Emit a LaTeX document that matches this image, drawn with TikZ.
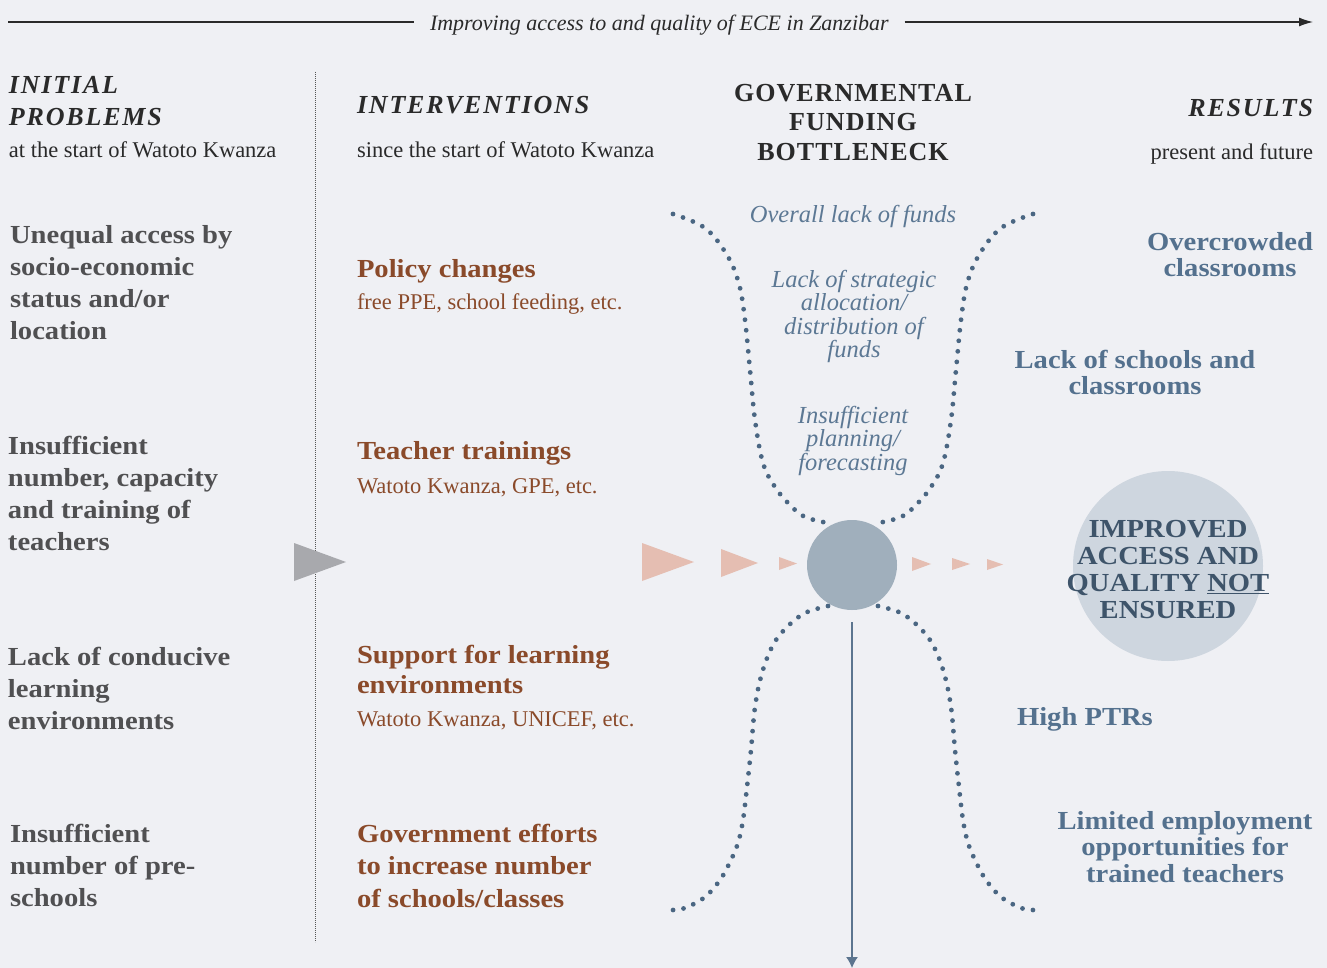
\documentclass[tikz,border=0pt]{standalone}
\usepackage{fontspec}
\setmainfont{Liberation Serif}[BoldFeatures={FakeStretch=1.1}]
\newfontfamily\hdfont{Liberation Serif}[LetterSpace=7]
\newfontfamily\capfont{Liberation Serif}[LetterSpace=4]
\usetikzlibrary{arrows.meta}
\definecolor{bgc}{RGB}{239,240,244}
\definecolor{ink}{RGB}{42,42,42}
\definecolor{probc}{RGB}{80,80,82}
\definecolor{brownc}{RGB}{138,74,42}
\definecolor{resc}{RGB}{84,113,142}
\definecolor{bnc}{RGB}{92,120,148}
\definecolor{dotc}{RGB}{74,102,130}
\definecolor{hubc}{RGB}{160,175,188}
\definecolor{outc}{RGB}{206,214,223}
\definecolor{pinkc}{RGB}{229,190,178}
\definecolor{grayc}{RGB}{168,169,173}
\definecolor{circtxt}{RGB}{62,84,106}
\tikzset{
  txt/.style={inner sep=0pt, outer sep=0pt},
  prob/.style={txt, anchor=north west, align=left, text=probc, font=\fontsize{26}{32}\selectfont\bfseries},
  intv/.style={txt, align=left, text=brownc, font=\fontsize{26}{32.5}\selectfont\bfseries},
  subt/.style={txt, anchor=base west, text=brownc, font=\fontsize{22.5}{27}\selectfont},
  res/.style={txt, align=center, text=resc, font=\fontsize{26}{26.5}\selectfont\bfseries},
  bneck/.style={txt, align=center, text=bnc, font=\fontsize{24.5}{23.5}\selectfont\itshape},
  hdr/.style={txt, text=ink, font=\fontsize{26}{32}\selectfont\hdfont\bfseries\itshape},
  note/.style={txt, text=ink, font=\fontsize{22.5}{27}\selectfont},
  dots/.style={dotc, line width=4.8pt, line cap=round, dash pattern=on 0pt off 10.6pt},
  pinktri/.style={fill=pinkc},
}
\begin{document}
\begin{tikzpicture}[x=1pt,y=-1pt]
\useasboundingbox (0,0) rectangle (1327,968);
\fill[bgc] (0,0) rectangle (1327,968);

% title arrow
\node[txt, inner xsep=16pt, anchor=base west, text=ink, font=\fontsize{22}{26}\selectfont\itshape] (title) at (414,31) {Improving access to and quality of ECE in Zanzibar};
\coordinate (tl) at (8,22);
\coordinate (tr) at (1313,22);
\draw[ink, line width=1.2pt] (tl) -- (tl -| title.west);
\draw[ink, line width=1.2pt, -{Latex[length=14pt,width=9pt]}] (tr -| title.east) -- (tr);

% divider
\coordinate (dvt) at (315,72);
\coordinate (dvb) at (315,942);
\draw[ink!80, line width=0.8pt, dash pattern=on 0.8pt off 1.2pt] (dvt) -- (dvb);

% headers
\node[hdr, anchor=north west, align=left] (hprob) at (9,76) {INITIAL\\PROBLEMS};
\node[note, anchor=base west] (sprob) at (9,158) {at the start of Watoto Kwanza};
\node[hdr, anchor=base west] (hint) at (357,114) {INTERVENTIONS};
\node[note, anchor=base west] (sint) at (357,158) {since the start of Watoto Kwanza};
\node[txt, anchor=north, align=center, text=ink, font=\fontsize{26}{29.5}\selectfont\capfont\bfseries] (hgov) at (853,84) {GOVERNMENTAL\\FUNDING\\BOTTLENECK};
\node[hdr, anchor=base east] (hres) at (1313,117) {RESULTS};
\node[note, anchor=base east] (sres) at (1313,160) {present and future};

% problems
\node[prob] (p1) at (10,225.5) {Unequal access by\\socio-economic\\status and/or\\location};
\node[prob] (p2) at (8,436) {Insufficient\\number, capacity\\and training of\\teachers};
\node[prob] (p3) at (8,647) {Lack of conducive\\learning\\environments};
\node[prob] (p4) at (10,824) {Insufficient\\number of pre-\\schools};

% interventions
\node[intv, anchor=base west] (i1) at (357,277) {Policy changes};
\node[subt] (s1) at (357,309) {free PPE, school feeding, etc.};
\node[intv, anchor=base west] (i2) at (357,459) {Teacher trainings};
\node[subt] (s2) at (357,493) {Watoto Kwanza, GPE, etc.};
\node[intv, anchor=north west, font=\fontsize{26}{30.5}\selectfont\bfseries] (i3) at (357,645) {Support for learning\\environments};
\node[subt] (s3) at (357,726) {Watoto Kwanza, UNICEF, etc.};
\node[intv, anchor=north west] (i4) at (357,824) {Government efforts\\to increase number\\of schools/classes};

% bottleneck texts
\node[bneck, anchor=base] (b1) at (853,223) {Overall lack of funds};
\node[bneck, anchor=north] (b2) at (854,270) {Lack of strategic\\allocation/\\distribution of\\funds};
\node[bneck, anchor=north] (b3) at (853,406) {Insufficient\\planning/\\forecasting};

% results
\node[res, anchor=north] (r1) at (1230,232) {Overcrowded\\classrooms};
\node[res, anchor=north] (r2) at (1135,350) {Lack of schools and\\classrooms};
\node[res, anchor=base west] (r3) at (1017,725) {High PTRs};
\node[res, anchor=north] (r4) at (1185,811) {Limited employment\\opportunities for\\trained teachers};

% funnel dots
\draw[dots] plot[smooth, tension=0.6] coordinates {(673,214) (705,228) (727,255) (739,284) (745,320) (750,370) (755,420) (763,463) (775,487) (790,505) (805,517) (828,523)};
\draw[dots] plot[smooth, tension=0.6] coordinates {(1033,214) (1001,228) (979,255) (967,284) (961,320) (956,370) (951,420) (943,463) (931,487) (916,505) (901,517) (878,523)};
\draw[dots] plot[smooth, tension=0.6] coordinates {(828,606) (805,613) (787,627) (773,645) (762,673) (755,707) (751,750) (747,787) (743,820) (738,843) (730,862) (720,880) (705,897) (685,908) (673,910)};
\draw[dots] plot[smooth, tension=0.6] coordinates {(878,606) (901,613) (919,627) (933,645) (944,673) (951,707) (955,750) (959,787) (963,820) (968,843) (976,862) (986,880) (1001,897) (1021,908) (1033,910)};

% hub and outcome
\node[circle, fill=hubc, minimum size=90pt, inner sep=0pt] (hub) at (852,565) {};
\node[circle, fill=outc, minimum size=190pt, inner sep=0pt] (out) at (1168,566) {};
\node[txt, align=center, text=circtxt, font=\fontsize{26}{27}\selectfont\bfseries] (outtxt) at (1168,570) {IMPROVED\\ACCESS AND\\QUALITY \underline{NOT}\\ENSURED};

% triangles
\fill[grayc] (294,543) -- (346,562) -- (294,581) -- cycle;
\fill[pinktri] (642,543) -- (694,562) -- (642,581) -- cycle;
\fill[pinktri] (721,549) -- (758,563) -- (721,577) -- cycle;
\fill[pinktri] (779,557) -- (797,563.5) -- (779,570) -- cycle;
\fill[pinktri] (912,557) -- (931,564) -- (912,571) -- cycle;
\fill[pinktri] (952,558) -- (970,564) -- (952,570) -- cycle;
\fill[pinktri] (987,559) -- (1003,564.5) -- (987,570) -- cycle;

% down arrow
\coordinate (bot) at (852,968);
\draw[dotc!90, line width=1.3pt, -{Latex[length=11pt,width=12pt]}] ([yshift=-12pt]hub.south) -- (bot);
\end{tikzpicture}
\end{document}
